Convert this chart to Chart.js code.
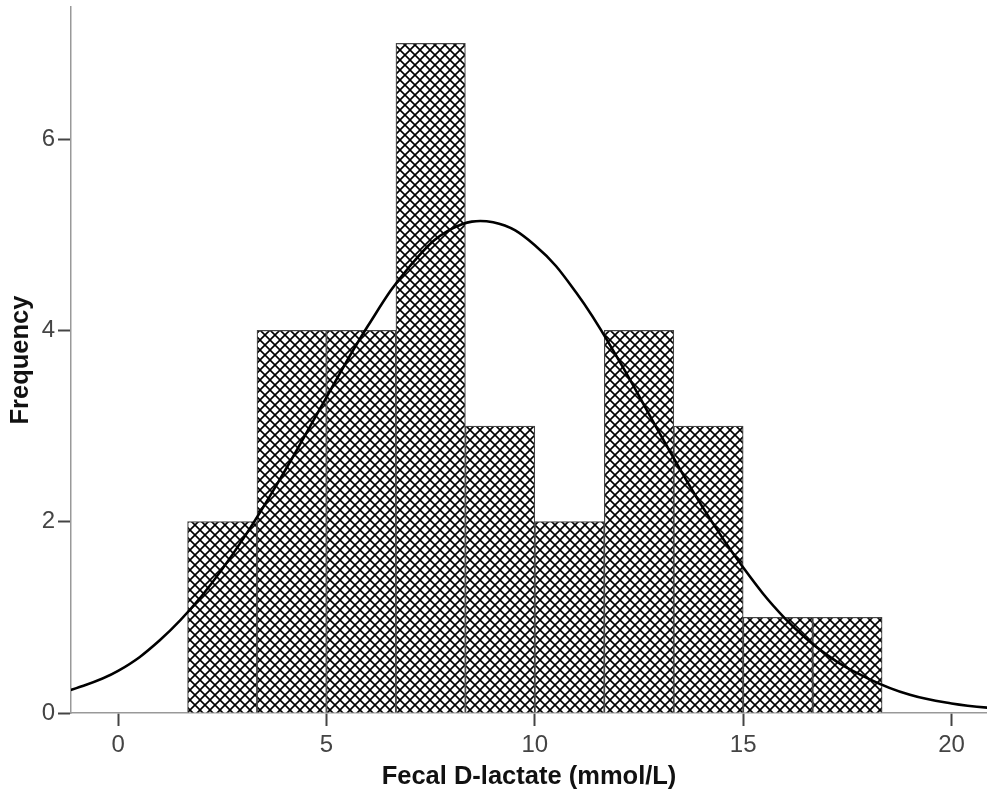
<!DOCTYPE html>
<html>
<head>
<meta charset="utf-8">
<script src="https://cdn.jsdelivr.net/npm/chart.js@4.4.1/dist/chart.umd.min.js"></script>
<style>
  html, body { margin: 0; padding: 0; background: #fff; }
  #wrap { width: 987px; height: 802px; position: relative; }
</style>
</head>
<body>
<div id="wrap"><canvas id="hist-chart"></canvas></div>
<script>
// Histogram bins (mmol/L) and counts
const binStart = [1.667, 3.333, 5.0, 6.667, 8.333, 10.0, 11.667, 13.333, 15.0, 16.667];
const binWidth = 1.667;
const counts = [2, 4, 4, 7, 3, 2, 4, 3, 1, 1];

// Fitted normal curve, sampled along the axis (runs past both ends, clipped)
const curveX = [-2, -1, 0, 1, 2, 3, 4, 5, 6, 7, 8, 9, 10, 11, 12, 13, 14, 15, 16, 17, 18, 19, 20, 21, 22];
const curveY = [0.14, 0.26, 0.44, 0.76, 1.22, 1.82, 2.53, 3.30, 4.05, 4.67, 5.06, 5.13, 4.89, 4.39, 3.70, 2.92, 2.17, 1.52, 0.99, 0.61, 0.36, 0.19, 0.10, 0.05, 0.02];

const xTicks = [0, 5, 10, 15, 20];
const yTicks = [0, 2, 4, 6];

// Cross-hatch fill for the bars
function makeHatch() {
    const s = 10;
    const c = document.createElement("canvas");
    c.width = s;
    c.height = s;
    const g = c.getContext("2d");
    g.fillStyle = "#fff";
    g.fillRect(0, 0, s, s);
    g.strokeStyle = "#000";
    g.lineWidth = 1.6;
    g.beginPath();
    g.moveTo(-1, -1); g.lineTo(s + 1, s + 1);
    g.moveTo(s + 1, -1); g.lineTo(-1, s + 1);
    g.stroke();
    return g.createPattern(c, "repeat");
}

const histData = binStart.map((b, i) => ({ x: b + binWidth / 2, y: counts[i] }));
const curveData = curveX.map((x, i) => ({ x: x, y: curveY[i] }));

const tickFont = { family: "'Liberation Sans', Arial, sans-serif", size: 24 };
const titleFont = { family: "'Liberation Sans', Arial, sans-serif", size: 25.5, weight: "bold" };

// drop the extra room Chart.js reserves for half-height tick labels
function noLabelPadding(scale) {
    scale.paddingTop = 0;
    scale.paddingBottom = 0;
    scale.paddingLeft = 0;
    scale.paddingRight = 0;
}

new Chart(document.getElementById("hist-chart"), {
    data: {
        datasets: [
            {
                type: "line",
                data: curveData,
                borderColor: "#000",
                borderWidth: 2.6,
                pointRadius: 0,
                tension: 0.4,
                fill: false,
                order: 0,
            },
            {
                type: "bar",
                data: histData,
                backgroundColor: makeHatch(),
                borderColor: "#444",
                borderWidth: 1.2,
                barPercentage: 1,
                categoryPercentage: 1,
                order: 1,
            },
        ],
    },
    options: {
        responsive: true,
        maintainAspectRatio: false,
        animation: false,
        layout: { padding: { top: 7, right: 0, left: 0, bottom: 0 } },
        plugins: {
            legend: { display: false },
            tooltip: { enabled: false },
        },
        scales: {
            x: {
                type: "linear",
                min: -1.13,
                max: 20.85,
                offset: false,
                afterFit: (scale) => { scale.height = 89; noLabelPadding(scale); },
                afterBuildTicks: (scale) => { scale.ticks = xTicks.map((v) => ({ value: v })); },
                ticks: { font: tickFont, color: "#444", padding: 5, maxRotation: 0 },
                grid: { offset: false, drawOnChartArea: false, drawTicks: true, tickLength: 13, tickColor: "#444", tickWidth: 2 },
                border: { display: true, color: "#999", width: 1.5 },
                title: {
                    display: true,
                    text: "Fecal D-lactate (mmol/L)",
                    font: titleFont,
                    color: "#111",
                    padding: { top: 0, bottom: 10 },
                },
            },
            y: {
                type: "linear",
                min: 0,
                max: 7.38,
                afterFit: (scale) => { scale.width = 71; noLabelPadding(scale); },
                afterBuildTicks: (scale) => { scale.ticks = yTicks.map((v) => ({ value: v })); },
                ticks: { font: tickFont, color: "#444", padding: 3 },
                grid: { drawOnChartArea: false, drawTicks: true, tickLength: 13, tickColor: "#444", tickWidth: 2 },
                border: { display: true, color: "#999", width: 1.5 },
                title: {
                    display: true,
                    text: "Frequency",
                    font: titleFont,
                    color: "#111",
                    padding: { top: 6, bottom: 0 },
                },
            },
        },
    },
});
</script>
</body>
</html>
